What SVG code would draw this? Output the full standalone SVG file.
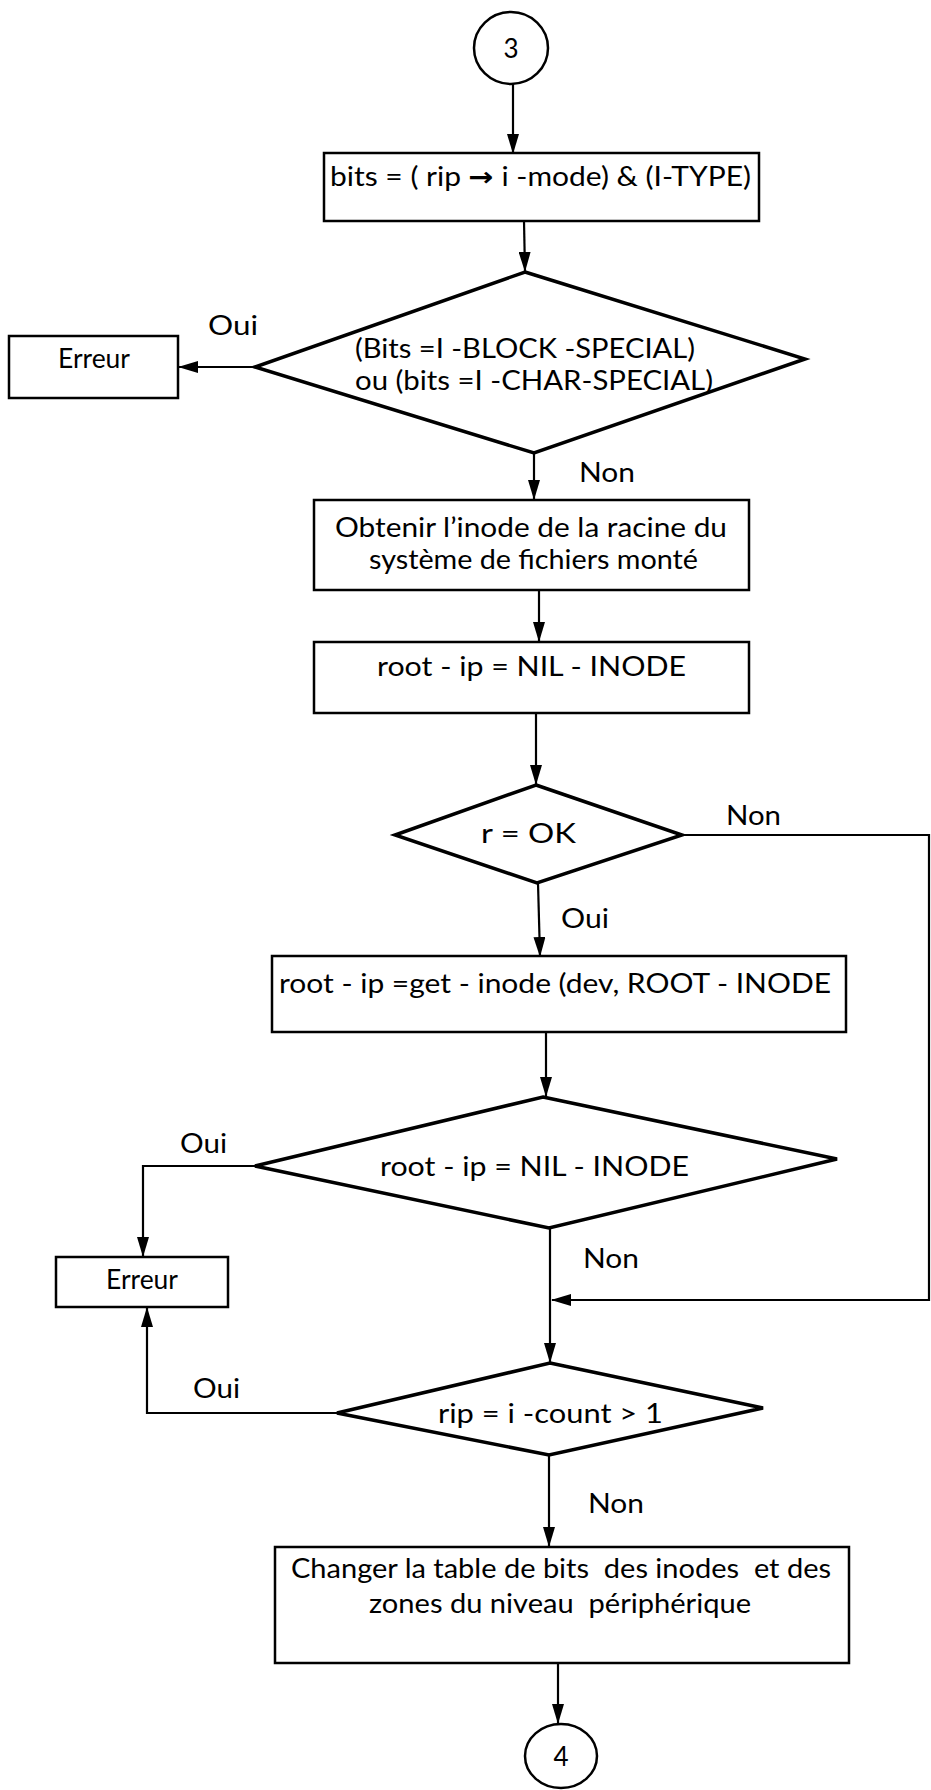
<svg xmlns="http://www.w3.org/2000/svg" width="931" height="1790" viewBox="0 0 931 1790">
<defs>
<marker id="arr" viewBox="0 0 20 12" markerWidth="20" markerHeight="12" refX="19" refY="6" orient="auto" markerUnits="userSpaceOnUse">
<path d="M0,0 L20,6 L0,12 z" fill="#000"/>
</marker>
<style>
.box{fill:#fff;stroke:#000;stroke-width:2.5}
.dia{fill:#fff;stroke:#000;stroke-width:3.5;stroke-linejoin:miter}
.con{fill:none;stroke:#000;stroke-width:2.2;marker-end:url(#arr)}
text{font-family:Lato,"Liberation Sans",Arial,sans-serif;font-size:26px;fill:#000}
.arrowglyph{font-family:"DejaVu Sans",sans-serif;font-weight:bold}
</style>
</defs>
<rect width="931" height="1790" fill="#fff"/>

<g id="connectors">
<path class="con" d="M513,84 L513,153"/>
<path class="con" d="M524,221 L525,271"/>
<path class="con" d="M255,367 L179,367"/>
<path class="con" d="M534,453 L534,499"/>
<path class="con" d="M539,590 L539,641"/>
<path class="con" d="M536,713 L536,784"/>
<path class="con" d="M682,835 L929,835 L929,1300 L552,1300"/>
<path class="con" d="M538,883 L540,956"/>
<path class="con" d="M546,1032 L546,1096"/>
<path class="con" d="M255,1166 L143,1166 L143,1256"/>
<path class="con" d="M550,1228 L550,1362"/>
<path class="con" d="M337,1413 L147,1413 L147,1308"/>
<path class="con" d="M549,1455 L549,1546"/>
<path class="con" d="M558,1663 L558,1723"/>
</g>

<g id="start3">
<ellipse cx="511" cy="48" rx="37" ry="36" fill="#fff" stroke="#000" stroke-width="2.5"/>
<text x="511" y="58" text-anchor="middle">3</text>
</g>

<g id="box-bits">
<rect class="box" x="324" y="153" width="435" height="68"/>
<text x="330" y="186" textLength="421" lengthAdjust="spacingAndGlyphs">bits = ( rip <tspan class="arrowglyph">→</tspan> i -mode) &amp; (I-TYPE)</text>
</g>

<g id="dia-special">
<polygon class="dia" points="525,272 805,359 534,453 255,367"/>
<text x="355" y="358" textLength="340" lengthAdjust="spacingAndGlyphs">(Bits =I -BLOCK -SPECIAL)</text>
<text x="355" y="390" textLength="358" lengthAdjust="spacingAndGlyphs">ou (bits =I -CHAR-SPECIAL)</text>
</g>

<g id="erreur1">
<rect class="box" x="9" y="336" width="169" height="62"/>
<text x="58" y="368" textLength="72" lengthAdjust="spacingAndGlyphs">Erreur</text>
</g>

<g id="box-obtenir">
<rect class="box" x="314" y="500" width="435" height="90"/>
<text x="335" y="537" textLength="392" lengthAdjust="spacingAndGlyphs">Obtenir l’inode de la racine du</text>
<text x="369" y="569" textLength="329" lengthAdjust="spacingAndGlyphs">système de fichiers monté</text>
</g>

<g id="box-nil">
<rect class="box" x="314" y="642" width="435" height="71"/>
<text x="377" y="676" textLength="309" lengthAdjust="spacingAndGlyphs">root - ip = NIL - INODE</text>
</g>

<g id="dia-ok">
<polygon class="dia" points="536,785 682,835 537,883 395,835"/>
<text x="481" y="843" textLength="95" lengthAdjust="spacingAndGlyphs">r = OK</text>
</g>

<g id="box-get">
<rect class="box" x="272" y="956" width="574" height="76"/>
<text x="279" y="993" textLength="552" lengthAdjust="spacingAndGlyphs">root - ip =get - inode (dev, ROOT - INODE</text>
</g>

<g id="dia-nil">
<polygon class="dia" points="543,1097 837,1159 549,1228 255,1166"/>
<text x="380" y="1176" textLength="309" lengthAdjust="spacingAndGlyphs">root - ip = NIL - INODE</text>
</g>

<g id="erreur2">
<rect class="box" x="56" y="1257" width="172" height="50"/>
<text x="106" y="1289" textLength="72" lengthAdjust="spacingAndGlyphs">Erreur</text>
</g>

<g id="dia-count">
<polygon class="dia" points="550,1363 763,1408 549,1455 337,1413"/>
<text x="438" y="1423" textLength="225" lengthAdjust="spacingAndGlyphs">rip = i -count &gt; 1</text>
</g>

<g id="box-changer">
<rect class="box" x="275" y="1547" width="574" height="116"/>
<text x="291" y="1578" textLength="540" lengthAdjust="spacingAndGlyphs" xml:space="preserve">Changer la table de bits  des inodes  et des</text>
<text x="369" y="1613" textLength="382" lengthAdjust="spacingAndGlyphs" xml:space="preserve">zones du niveau  périphérique</text>
</g>

<g id="end4">
<ellipse cx="561" cy="1756" rx="36" ry="32" fill="#fff" stroke="#000" stroke-width="2.5"/>
<text x="561" y="1766" text-anchor="middle">4</text>
</g>

<g id="labels">
<text x="208" y="335" textLength="50" lengthAdjust="spacingAndGlyphs">Oui</text>
<text x="579" y="482" textLength="56" lengthAdjust="spacingAndGlyphs">Non</text>
<text x="726" y="825" textLength="55" lengthAdjust="spacingAndGlyphs">Non</text>
<text x="561" y="928" textLength="48" lengthAdjust="spacingAndGlyphs">Oui</text>
<text x="180" y="1153" textLength="47" lengthAdjust="spacingAndGlyphs">Oui</text>
<text x="583" y="1268" textLength="56" lengthAdjust="spacingAndGlyphs">Non</text>
<text x="193" y="1398" textLength="47" lengthAdjust="spacingAndGlyphs">Oui</text>
<text x="588" y="1513" textLength="56" lengthAdjust="spacingAndGlyphs">Non</text>
</g>
</svg>
